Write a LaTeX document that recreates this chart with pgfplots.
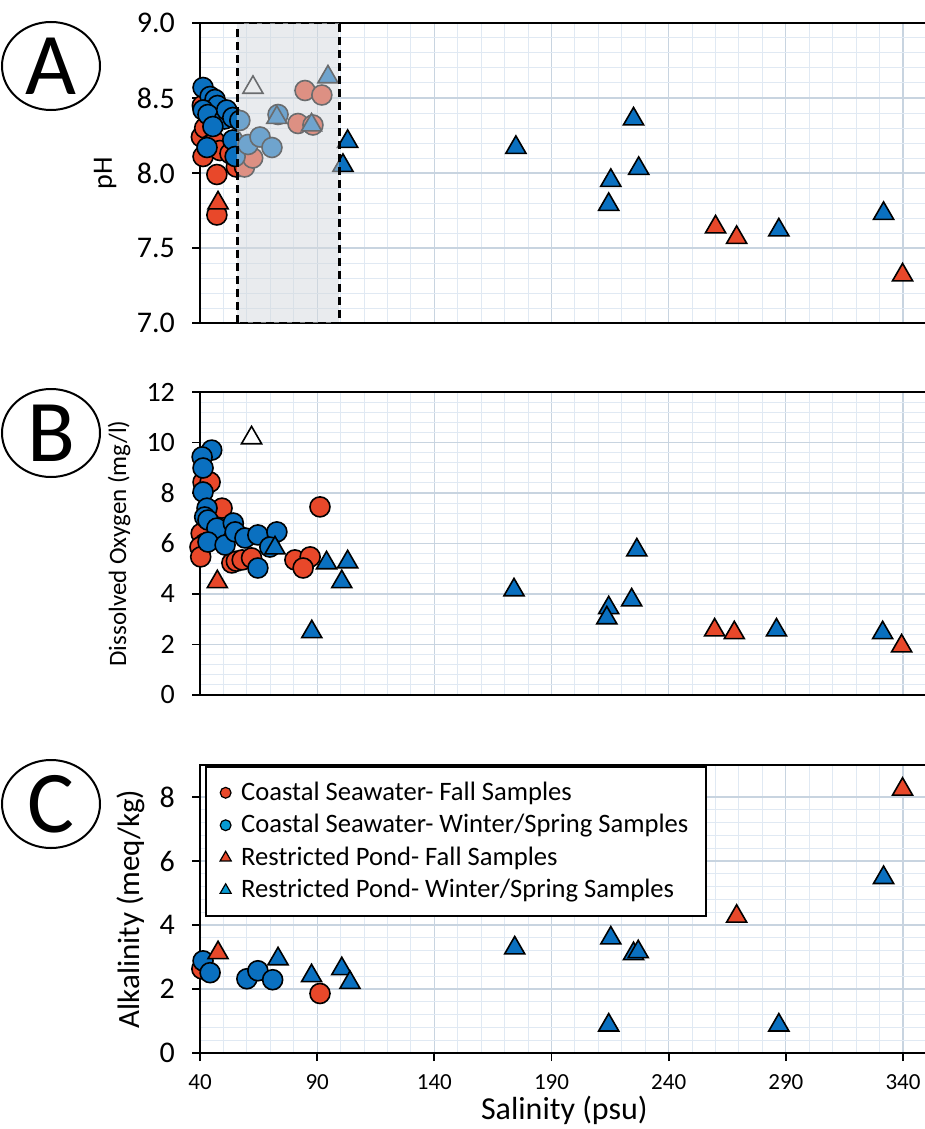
\documentclass[border=0pt]{standalone}
\usepackage{pgfplots}
\pgfplotsset{compat=1.18}
\usepackage{fontspec}
\setmainfont{Carlito}
\usetikzlibrary{shapes.geometric}

\definecolor{rd}{RGB}{232,72,42}
\definecolor{bl}{RGB}{10,112,192}
\definecolor{majgrid}{RGB}{200,212,224}
\definecolor{mingrid}{RGB}{224,233,243}
\definecolor{boxgray}{RGB}{212,216,221}

\pgfplotsset{
  panel/.style={
    scale only axis, width=364.4pt, xmin=40, xmax=351,
    xtick={40,90,...,340}, minor x tick num=4, minor y tick num=4,
    grid=both,
    major grid style={draw=majgrid, line width=0.6pt},
    minor grid style={draw=mingrid, line width=0.5pt},
    tick align=outside, xtick pos=bottom, ytick pos=left,
    major tick length=4pt, minor tick length=0pt,
    axis line style={line width=0.9pt, black},
    tick style={black, line width=0.9pt},
    /pgf/number format/assume math mode=true,
    clip=false, clip marker paths=true,
    yticklabel style={font=\fontsize{15}{15}\selectfont, xshift=-5pt},
  },
  noxlabels/.style={xticklabels={}, x tick style={draw=none}},
  rcirc/.style={only marks, mark=*, mark size=5pt, mark options={draw=black, fill=rd, line width=0.8pt}},
  bcirc/.style={only marks, mark=*, mark size=5pt, mark options={draw=black, fill=bl, line width=0.8pt}},
  rtri/.style={only marks, mark=triangle*, mark size=5.8pt, mark options={draw=black, fill=rd, line width=0.8pt}},
  btri/.style={only marks, mark=triangle*, mark size=5.8pt, mark options={draw=black, fill=bl, line width=0.8pt}},
  wtri/.style={only marks, mark=triangle*, mark size=5.8pt, mark options={draw=black, fill=white, line width=0.8pt}},
}

\begin{document}
\begin{tikzpicture}

% ---------------- (A) pH ----------------
\begin{axis}[panel, noxlabels,
  at={(100pt,-161.5pt)}, anchor=south west, height=150pt,
  ymin=7, ymax=9, ytick={7,7.5,...,9},
  yticklabel style={/pgf/number format/.cd, fixed, fixed zerofill, precision=1},
  ylabel={pH},
  ylabel style={at={(axis description cs:-0.1303,0.5)}, anchor=center, font=\fontsize{14}{14}\selectfont},
]
\addplot[rcirc] table {
x y
41 8.45
40.6 8.24
41.3 8.11
42 8.30
44.5 8.19
46.4 8.21
48.5 8.15
52.8 8.13
47.2 7.99
47.2 7.72
55.5 8.04
59 8.04
62.5 8.10
81.8 8.33
84.8 8.55
88.2 8.32
92 8.52
};
\addplot[bcirc] table {
x y
41.3 8.57
44.3 8.51
46.4 8.49
47.5 8.45
41.3 8.42
43.4 8.39
50.5 8.36
51.4 8.42
45.5 8.31
54 8.37
54 8.22
43 8.17
55 8.11
57 8.35
60.5 8.19
65.6 8.24
70.7 8.17
73.3 8.39
};
\addplot[rtri] table {
x y
47.7 7.80
260 7.64
269 7.57
339.8 7.32
};
\addplot[btri] table {
x y
72.8 8.37
87.6 8.32
94.6 8.64
103 8.21
101 8.05
174.8 8.17
225 8.36
227.2 8.03
215.3 7.95
214.4 7.79
287 7.62
331.7 7.73
};
\addplot[wtri] table {
x y
62.6 8.57
};
% shaded salinity window, laid over the samples
\fill[boxgray, fill opacity=0.5] (axis cs:56,7) rectangle (axis cs:99.5,9);
\draw[black, line width=1.3pt, dash pattern=on 4pt off 2.5pt] (axis cs:56,7) rectangle (axis cs:99.5,9);
\end{axis}

% ---------------- (B) Dissolved oxygen ----------------
\begin{axis}[panel, noxlabels,
  at={(100pt,-347.5pt)}, anchor=south west, height=151.5pt,
  ymin=0, ymax=12, ytick={0,2,...,12},
  yticklabel style={font=\fontsize{14}{14}\selectfont},
  ylabel={Dissolved Oxygen (mg/l)},
  ylabel style={at={(axis description cs:-0.1111,0.5)}, anchor=center, font=\fontsize{12.5}{13}\selectfont},
]
\addplot[rcirc] table {
x y
41.3 8.43
44.3 8.43
49.4 7.40
40.5 6.40
42 6.00
40 5.86
40.3 5.47
53.6 5.23
55.5 5.30
58 5.35
62 5.43
80.5 5.35
87 5.47
84 5.03
91.2 7.45
};
\addplot[bcirc] table {
x y
45 9.70
40.9 9.43
41.3 8.99
41.3 8.04
43 7.40
42 7.05
43.4 6.93
47.2 6.61
43.4 6.06
50.7 5.94
54.2 6.81
55 6.46
59.2 6.22
64.7 6.34
72.8 6.46
69.8 5.86
64.7 5.03
};
\addplot[rtri] table {
x y
47.4 4.48
259.6 2.57
268 2.46
339.4 1.94
};
\addplot[btri] table {
x y
72 5.82
87.7 2.50
94 5.23
103 5.27
100.5 4.48
174 4.16
226.4 5.74
224.2 3.76
214.4 3.45
213.6 3.05
286 2.57
331.3 2.46
};
\addplot[wtri] table {
x y
62 10.18
};
\end{axis}

% ---------------- (C) Alkalinity ----------------
\begin{axis}[panel,
  at={(100pt,-526.5pt)}, anchor=south west, height=144pt,
  ymin=0, ymax=9, ytick={0,2,...,8},
  xticklabel style={font=\fontsize{11.5}{12}\selectfont, yshift=-3pt},
  xlabel={Salinity (psu)},
  xlabel style={at={(axis description cs:0.5,0)}, anchor=center, yshift=-28.5pt, font=\fontsize{16}{16}\selectfont},
  ylabel={Alkalinity (meq/kg)},
  ylabel style={at={(axis description cs:-0.0947,0.5)}, anchor=center, font=\fontsize{15.5}{16}\selectfont},
  legend cell align=left,
  legend style={at={(axis description cs:0.007,0.9965)}, anchor=north west,
    draw=black, line width=1pt, fill=white,
    font=\fontsize{13.3}{15.5}\selectfont, inner xsep=7pt, inner ysep=5.5pt,
    row sep=1.5pt, /tikz/every odd column/.append style={column sep=3pt}},
]
\addlegendimage{only marks, mark=*, mark size=2.7pt, mark options={draw=black, fill=rd, line width=0.6pt}}
\addlegendentry{Coastal Seawater- Fall Samples}
\addlegendimage{only marks, mark=*, mark size=2.7pt, mark options={draw=black, fill=bl!70!cyan, line width=0.6pt}}
\addlegendentry{Coastal Seawater- Winter/Spring Samples\hspace{13pt}}
\addlegendimage{only marks, mark=triangle*, mark size=3.2pt, mark options={draw=black, fill=rd, line width=0.6pt}}
\addlegendentry{Restricted Pond- Fall Samples}
\addlegendimage{only marks, mark=triangle*, mark size=3.2pt, mark options={draw=black, fill=bl!70!cyan, line width=0.6pt}}
\addlegendentry{Restricted Pond- Winter/Spring Samples}
\addplot[rcirc, forget plot] table {
x y
40.8 2.63
91.2 1.86
};
\addplot[bcirc, forget plot] table {
x y
41.3 2.88
44.3 2.51
60 2.32
64.7 2.57
71 2.29
};
\addplot[rtri, forget plot] table {
x y
47.7 3.13
269 4.27
339.8 8.24
};
\addplot[btri, forget plot] table {
x y
73.3 2.94
87.6 2.41
100.5 2.63
104 2.20
174.3 3.28
215.3 3.59
225 3.10
227 3.16
214.4 0.87
287 0.87
331.7 5.48
};
\end{axis}

% panel tags
\node[draw, ellipse, line width=1pt, minimum width=49pt, minimum height=44pt, inner sep=0pt,
  font=\fontsize{44}{44}\selectfont] at (25.5pt,-33pt) {A};
\node[draw, ellipse, line width=1pt, minimum width=49pt, minimum height=44pt, inner sep=0pt,
  font=\fontsize{44}{44}\selectfont] at (25.5pt,-216.5pt) {B};
\node[draw, ellipse, line width=1pt, minimum width=49pt, minimum height=44pt, inner sep=0pt,
  font=\fontsize{44}{44}\selectfont] at (25.5pt,-402pt) {C};

\pgfresetboundingbox
\path[use as bounding box] (0,0) rectangle (462.5pt,-564.5pt);
\end{tikzpicture}
\end{document}
